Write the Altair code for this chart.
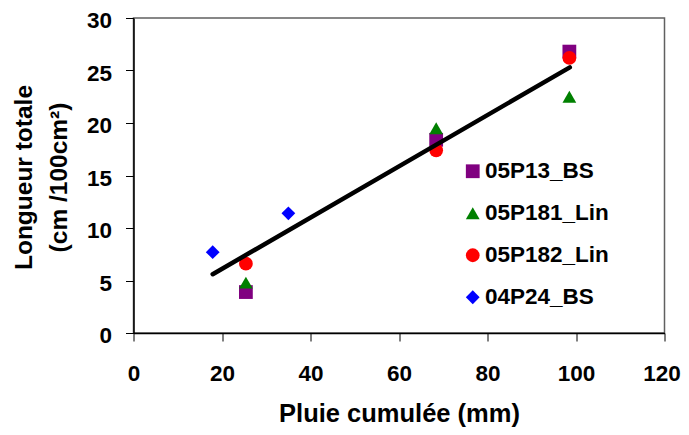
import altair as alt
import pandas as pd

series_names = ["05P13_BS", "05P181_Lin", "05P182_Lin", "04P24_BS"]
series_colors = ["#800080", "#008000", "#FF0000", "#0000FF"]
series_shapes = ["square", "triangle-up", "circle", "diamond"]

x_05P13_BS = [25.4, 68.4, 98.5]
y_05P13_BS = [3.9, 18.4, 26.8]
x_05P181_Lin = [25.4, 68.4, 98.5]
y_05P181_Lin = [4.8, 19.5, 22.5]
x_05P182_Lin = [25.4, 68.4, 98.5]
y_05P182_Lin = [6.6, 17.4, 26.2]
x_04P24_BS = [17.9, 35.0]
y_04P24_BS = [7.7, 11.4]

trend_x = [17.9, 98.6]
trend_y = [5.6, 25.3]

rows = []
for name, xs, ys in [
    ("05P13_BS", x_05P13_BS, y_05P13_BS),
    ("05P181_Lin", x_05P181_Lin, y_05P181_Lin),
    ("05P182_Lin", x_05P182_Lin, y_05P182_Lin),
    ("04P24_BS", x_04P24_BS, y_04P24_BS),
]:
    for xv, yv in zip(xs, ys):
        rows.append({"serie": name, "x": xv, "y": yv})
df = pd.DataFrame(rows)
trend = pd.DataFrame({"x": trend_x, "y": trend_y})

FONT = "Liberation Sans"

xscale = alt.Scale(domain=[0, 120], nice=False, zero=False)
yscale = alt.Scale(domain=[0, 30], nice=False, zero=False)

xaxis = alt.Axis(
    title="Pluie cumulée (mm)", values=[0, 20, 40, 60, 80, 100, 120],
    grid=False, domainColor="black", domainWidth=1.5, tickColor="black",
    tickSize=8, tickWidth=1, labelFont=FONT, labelFontSize=22.5,
    labelFontWeight="bold", labelColor="black", labelBaseline="alphabetic",
    labelPadding=39,
    labelOffset={"condition": {"test": "datum.value == 120", "value": -3}, "value": 0},
    titleFont=FONT, titleFontSize=25.5, titleFontWeight="bold",
    titleColor="black", titleBaseline="alphabetic", titleY=88.7, titleX=265.5,
    titleAlign="center", labelFlush=False, labelOverlap=False,
)
yaxis = alt.Axis(
    title=["Longueur totale", "(cm /100cm²)"], values=[0, 5, 10, 15, 20, 25, 30],
    grid=False, domainColor="black", domainWidth=1.5, tickColor="black",
    tickSize=8, tickWidth=1, labelFont=FONT, labelFontSize=22.5,
    labelFontWeight="bold", labelColor="black", labelPadding=14, labelOffset=2.5,
    titleFont=FONT, titleFontSize=24.5, titleFontWeight="bold", titleColor="black",
    titleBaseline="alphabetic", titleAngle=270, titleAlign="center",
    titleX=-101.8, titleY=159, titleLineHeight=35, labelFlush=False,
    labelOverlap=False,
)

points = alt.Chart(df).mark_point(filled=True, opacity=1, size=190).encode(
    x=alt.X("x:Q", scale=xscale, axis=xaxis),
    y=alt.Y("y:Q", scale=yscale, axis=yaxis),
    color=alt.Color(
        "serie:N",
        scale=alt.Scale(domain=series_names, range=series_colors),
        legend=alt.Legend(
            title=None, orient="none", legendX=328, legendY=142,
            labelFont=FONT, labelFontSize=22.5, labelFontWeight="bold",
            labelColor="black", symbolSize=190, rowPadding=19, labelOffset=1,
            padding=0, symbolStrokeWidth=0, symbolOpacity=1,
        ),
    ),
    shape=alt.Shape(
        "serie:N",
        scale=alt.Scale(domain=series_names, range=series_shapes),
    ),
)

line = alt.Chart(trend).mark_line(color="black", strokeWidth=4.5, strokeCap="round").encode(
    x=alt.X("x:Q", scale=xscale),
    y=alt.Y("y:Q", scale=yscale),
)

chart = alt.layer(points, line).properties(
    width=531, height=315,
    autosize=alt.AutoSizeParams(type="none"),
    padding={"left": 125.5, "top": 10, "right": 16.5, "bottom": 94},
    background="white",
).configure_view(stroke="#606060", strokeWidth=1.5)

chart.save("out.html", embed_options={"renderer": "svg", "actions": False})
